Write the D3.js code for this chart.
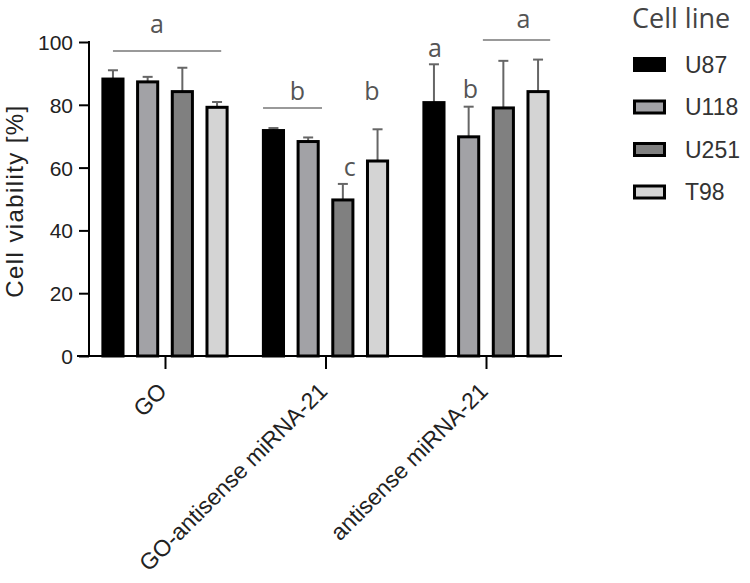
<!DOCTYPE html>
<html>
  <head>
    <script src="https://d3js.org/d3.v7.min.js"></script>
    <style>
      body { margin: 0; background: white; }
      .tick text { font-family: "Liberation Sans", Arial, sans-serif; }
    </style>
  </head>
  <body>
    <svg width="750" height="583"></svg>
    <script>
      // data
      var groups = ["GO", "GO-antisense miRNA-21", "antisense miRNA-21"];
      var cellLines = ["U87", "U118", "U251", "T98"];
      var colors = ["#000000", "#a2a2a6", "#808080", "#d4d4d4"];
      var means = [
        [88.2, 87.3, 84.2, 79.2],
        [71.8, 68.3, 49.7, 62.1],
        [80.7, 69.8, 79.0, 84.2]
      ];
      var upper = [
        [91.0, 88.9, 91.8, 80.9],
        [72.6, 69.6, 54.8, 72.2],
        [92.9, 79.4, 94.0, 94.4]
      ];
      // significance letters (at / line ends in bar-index units, levels in %)
      var letters = [
        { g: 0, text: "a", at: 1.27, value: 102.9, line: [0, 3.12], lineValue: 97.1 },
        { g: 1, text: "b", at: 0.69, value: 81.5, line: [-0.3, 1.4], lineValue: 79.0 },
        { g: 1, text: "c", at: 2.2, value: 57.3 },
        { g: 1, text: "b", at: 2.84, value: 81.5 },
        { g: 2, text: "a", at: 0.03, value: 95.2 },
        { g: 2, text: "b", at: 1.05, value: 82.2 },
        { g: 2, text: "a", at: 2.58, value: 104.5, line: [1.41, 3.35], lineValue: 100.6 }
      ];
      var yTicks = [0, 20, 40, 60, 80, 100];

      var svg = d3.select("svg");
      var mLeft = 89, mRight = 562, mTop = 42, mBottom = 356;

      var x = d3.scalePoint().domain(groups).range([mLeft, mRight]).padding(0.4735);
      var xs = d3.scaleBand().domain(cellLines).range([-69.4, 69.4])
        .paddingInner(0.42).paddingOuter(0.21);
      var y = d3.scaleLinear().domain([0, 100]).range([mBottom, mTop]);
      // bar index -> offset from group centre
      var xi = d3.scaleLinear().domain([0, 3])
        .range([xs(cellLines[0]) + xs.bandwidth() / 2, xs(cellLines[3]) + xs.bandwidth() / 2]);

      // bars
      groups.forEach(function (g, gi) {
        cellLines.forEach(function (c, ci) {
          var bx = x(g) + xs(c);
          var cx = bx + xs.bandwidth() / 2;
          // error bar
          svg.append("line")
            .attr("x1", cx).attr("x2", cx)
            .attr("y1", y(means[gi][ci])).attr("y2", y(upper[gi][ci]))
            .attr("stroke", "#666").attr("stroke-width", 2);
          svg.append("line")
            .attr("x1", cx - 5).attr("x2", cx + 5)
            .attr("y1", y(upper[gi][ci])).attr("y2", y(upper[gi][ci]))
            .attr("stroke", "#666").attr("stroke-width", 2);
          svg.append("rect")
            .attr("x", bx)
            .attr("y", y(means[gi][ci]))
            .attr("width", xs.bandwidth())
            .attr("height", y(0) - y(means[gi][ci]))
            .attr("fill", colors[ci])
            .attr("stroke", "#000")
            .attr("stroke-width", 3);
        });
      });

      // y axis
      var yAxis = svg.append("g")
        .attr("transform", "translate(" + mLeft + ",0)")
        .call(d3.axisLeft(y).tickValues(yTicks).tickSize(10).tickPadding(6));
      yAxis.selectAll("line, path").attr("stroke", "#000").attr("stroke-width", 2);
      yAxis.select(".domain").attr("d", "M0," + mBottom + "V" + (mTop - 1));
      yAxis.selectAll("text").style("font-size", "21px").attr("fill", "#222")
        .attr("dy", "0.36em");

      // x axis
      var xAxis = svg.append("g")
        .attr("transform", "translate(0," + mBottom + ")")
        .call(d3.axisBottom(x).tickSize(13).tickSizeOuter(0));
      xAxis.select(".domain").attr("d", "M" + (mLeft - 12) + ",0H" + mRight)
        .attr("stroke", "#000").attr("stroke-width", 2);
      xAxis.selectAll(".tick line").attr("stroke", "#000").attr("stroke-width", 2);
      xAxis.selectAll("text")
        .style("font-size", "23px")
        .attr("fill", "#222")
        .style("text-anchor", "end")
        .attr("x", 0).attr("y", 0)
        .attr("dy", "0.35em")
        .attr("transform", "translate(-3,31) rotate(-45)");

      // y label
      svg.append("text")
        .attr("transform", "translate(23,201) rotate(-90)")
        .style("text-anchor", "middle")
        .style("font-family", "'Liberation Sans', Arial, sans-serif")
        .style("font-size", "24px")
        .style("letter-spacing", "1.4px")
        .attr("fill", "#222")
        .text("Cell viability [%]");

      // significance letters
      letters.forEach(function (d) {
        var gx = x(groups[d.g]);
        if (d.line) {
          svg.append("line")
            .attr("x1", gx + xi(d.line[0])).attr("x2", gx + xi(d.line[1]))
            .attr("y1", y(d.lineValue)).attr("y2", y(d.lineValue))
            .attr("stroke", "#777").attr("stroke-width", 1.5);
        }
        svg.append("text")
          .attr("x", gx + xi(d.at))
          .attr("y", y(d.value))
          .style("text-anchor", "middle")
          .style("font-family", "'Open Sans', sans-serif")
          .style("font-size", "25px")
          .attr("fill", "#555")
          .text(d.text);
      });

      // legend
      var legend = svg.append("g").attr("transform", "translate(632,0)");
      legend.append("text")
        .attr("x", 0).attr("y", 28)
        .style("font-family", "'Open Sans', sans-serif")
        .style("font-size", "27px")
        .attr("fill", "#444")
        .text("Cell line");
      var items = legend.selectAll(".item").data(cellLines).enter().append("g")
        .attr("transform", function (d, i) { return "translate(0," + (64.5 + i * 42.5) + ")"; });
      items.append("rect")
        .attr("x", 2.5).attr("y", -6).attr("width", 30).attr("height", 12)
        .attr("fill", function (d, i) { return colors[i]; })
        .attr("stroke", "#000").attr("stroke-width", 3);
      items.append("text")
        .attr("x", 53).attr("y", 0).attr("dy", "0.36em")
        .style("font-family", "'Liberation Sans', Arial, sans-serif")
        .style("font-size", "23px")
        .attr("fill", "#333")
        .text(function (d) { return d; });
    </script>
  </body>
</html>
